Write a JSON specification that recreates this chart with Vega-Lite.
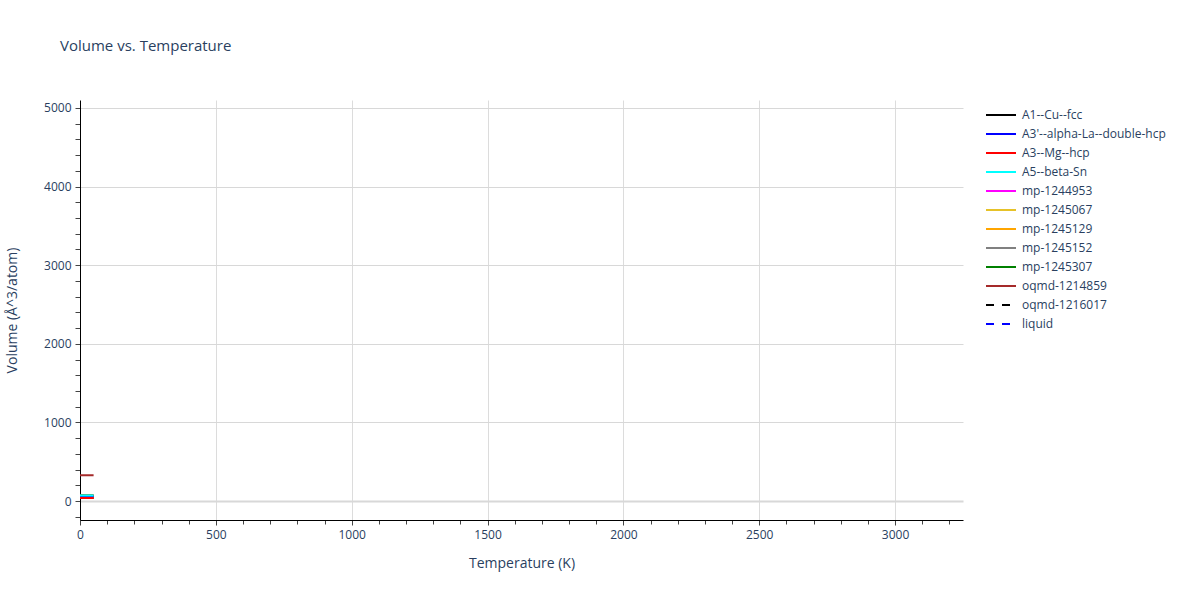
{
  "$schema": "https://vega.github.io/schema/vega-lite/v6.json",
  "width": 883,
  "height": 420,
  "autosize": "none",
  "padding": {"left": 80, "top": 100, "right": 237, "bottom": 80},
  "background": "white",
  "title": {
    "text": "Volume vs. Temperature",
    "anchor": "start",
    "frame": "group",
    "dx": -20,
    "offset": 46,
    "font": "Open Sans",
    "fontSize": 15,
    "fontWeight": "normal",
    "color": "#2a3f5f"
  },
  "config": {
    "view": {"stroke": null},
    "font": "Open Sans"
  },
  "data": {
    "values": [
      {"phase": "A1--Cu--fcc", "T": 0, "V": 40},
      {"phase": "A1--Cu--fcc", "T": 50, "V": 40},
      {"phase": "mp-1244953", "T": 0, "V": 72},
      {"phase": "mp-1244953", "T": 50, "V": 72},
      {"phase": "mp-1245067", "T": 0, "V": 58},
      {"phase": "mp-1245067", "T": 50, "V": 58},
      {"phase": "mp-1245129", "T": 0, "V": 72},
      {"phase": "mp-1245129", "T": 50, "V": 72},
      {"phase": "mp-1245152", "T": 0, "V": 58},
      {"phase": "mp-1245152", "T": 50, "V": 58},
      {"phase": "mp-1245307", "T": 0, "V": 72},
      {"phase": "mp-1245307", "T": 50, "V": 72},
      {"phase": "oqmd-1216017", "T": 0, "V": 40},
      {"phase": "oqmd-1216017", "T": 50, "V": 40},
      {"phase": "liquid", "T": 0, "V": 58},
      {"phase": "liquid", "T": 50, "V": 58},
      {"phase": "A3'--alpha-La--double-hcp", "T": 0, "V": 58},
      {"phase": "A3'--alpha-La--double-hcp", "T": 50, "V": 58},
      {"phase": "A3--Mg--hcp", "T": 0, "V": 40},
      {"phase": "A3--Mg--hcp", "T": 50, "V": 40},
      {"phase": "A5--beta-Sn", "T": 0, "V": 72},
      {"phase": "A5--beta-Sn", "T": 50, "V": 72},
      {"phase": "oqmd-1214859", "T": 0, "V": 330},
      {"phase": "oqmd-1214859", "T": 50, "V": 330}
    ]
  },
  "mark": {"type": "line", "strokeWidth": 2, "clip": true},
  "encoding": {
    "x": {
      "field": "T",
      "type": "quantitative",
      "title": "Temperature (K)",
      "scale": {"domain": [0, 3250], "nice": false, "zero": false},
      "axis": {
        "values": [0,100,200,300,400,500,600,700,800,900,1000,1100,1200,1300,1400,1500,1600,1700,1800,1900,2000,2100,2200,2300,2400,2500,2600,2700,2800,2900,3000,3100,3200],
        "labelExpr": "datum.value % 500 === 0 ? datum.value : ''",
        "labelFlush": false,
        "grid": true,
        "gridColor": {"condition": {"test": "datum.value % 500 === 0 && datum.value > 0", "value": "#dcdcdc"}, "value": "transparent"},
        "tickSize": {"condition": {"test": "datum.value % 500 === 0", "value": 5}, "value": 4},
        "tickColor": "#444",
        "domainColor": "#000",
        "labelFont": "Open Sans",
        "labelFontSize": 12,
        "labelColor": "#2a3f5f",
        "labelPadding": 4,
        "titleFont": "Open Sans",
        "titleFontSize": 14,
        "titleFontWeight": "normal",
        "titleColor": "#2a3f5f",
        "titlePadding": 16
      }
    },
    "y": {
      "field": "V",
      "type": "quantitative",
      "title": "Volume (Å^3/atom)",
      "scale": {"domain": [-240, 5100], "nice": false, "zero": false},
      "axis": {
        "values": [-200,0,200,400,600,800,1000,1200,1400,1600,1800,2000,2200,2400,2600,2800,3000,3200,3400,3600,3800,4000,4200,4400,4600,4800,5000],
        "labelExpr": "datum.value % 1000 === 0 ? datum.value : ''",
        "labelFlush": false,
        "grid": true,
        "gridColor": {"condition": {"test": "datum.value % 1000 === 0", "value": "#d8d8d8"}, "value": "transparent"},
        "gridWidth": {"condition": {"test": "datum.value === 0", "value": 2}, "value": 1},
        "tickSize": 5,
        "tickColor": "#444",
        "domainColor": "#000",
        "labelFont": "Open Sans",
        "labelFontSize": 12,
        "labelColor": "#2a3f5f",
        "labelPadding": 4,
        "titleFont": "Open Sans",
        "titleFontSize": 14,
        "titleFontWeight": "normal",
        "titleColor": "#2a3f5f",
        "titlePadding": 24
      }
    },
    "color": {
      "field": "phase",
      "type": "nominal",
      "title": null,
      "sort": null,
      "scale": {
        "domain": ["A1--Cu--fcc", "A3'--alpha-La--double-hcp", "A3--Mg--hcp", "A5--beta-Sn", "mp-1244953", "mp-1245067", "mp-1245129", "mp-1245152", "mp-1245307", "oqmd-1214859", "oqmd-1216017", "liquid"],
        "range": ["#000000", "#0000ff", "#ff0000", "#00ffff", "#ff00ff", "#e6c229", "#ffa500", "#808080", "#008000", "#a52a2a", "#000000", "#0000ff"]
      },
      "legend": {
        "orient": "none",
        "legendX": 905,
        "legendY": 7,
        "symbolType": "stroke",
        "symbolSize": 900,
        "symbolStrokeWidth": 2,
        "clipHeight": 16,
        "rowPadding": 3,
        "labelFont": "Open Sans",
        "labelFontSize": 12,
        "labelColor": "#2a3f5f",
        "labelOffset": 5
      }
    },
    "strokeDash": {
      "field": "phase",
      "type": "nominal",
      "title": null,
      "sort": null,
      "scale": {
        "domain": ["A1--Cu--fcc", "A3'--alpha-La--double-hcp", "A3--Mg--hcp", "A5--beta-Sn", "mp-1244953", "mp-1245067", "mp-1245129", "mp-1245152", "mp-1245307", "oqmd-1214859", "oqmd-1216017", "liquid"],
        "range": [[1,0],[1,0],[1,0],[1,0],[1,0],[1,0],[1,0],[1,0],[1,0],[1,0],[8,8],[8,8]]
      }
    }
  }
}
